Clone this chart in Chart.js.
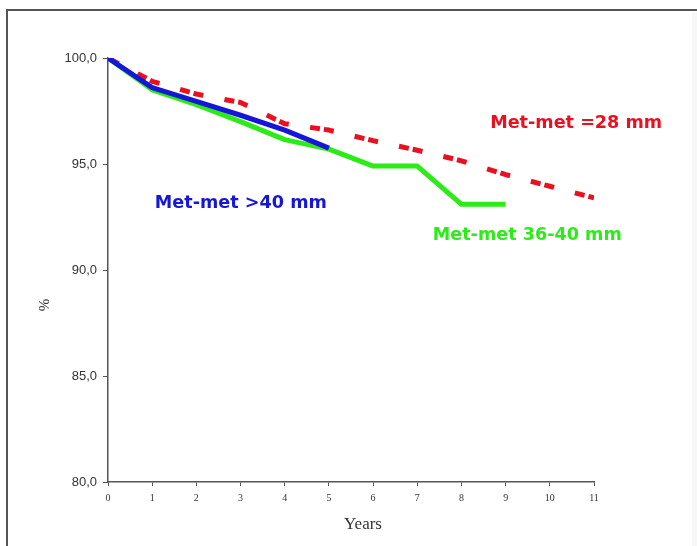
<!DOCTYPE html>
<html>
<head>
<meta charset="utf-8">
<script src="https://cdn.jsdelivr.net/npm/chart.js@4/dist/chart.umd.min.js"></script>
<style>
  html, body { margin: 0; padding: 0; background: #fff; }
  #wrap { position: relative; width: 697px; height: 546px; overflow: hidden; }
  #frame { position: absolute; left: 6px; top: 9px; right: -10px; bottom: -10px;
           border-left: 2px solid #555; border-top: 2px solid #555; }
  #edge { position: absolute; left: 692px; top: 12px; width: 5px; bottom: 0; background: #f7f7f7; }
  canvas { position: absolute; left: 0; top: 0; }
</style>
</head>
<body>
<div id="wrap">
  <div id="frame"></div>
  <div id="edge"></div>
  <canvas id="survival" width="697" height="546"></canvas>
</div>
<script>
// Survival (%) by follow-up year, per head size group
const years = [0, 1, 2, 3, 4, 5, 6, 7, 8, 9, 10, 11];
const met28 = [100, 98.9, 98.3, 97.9, 96.9, 96.6, 96.1, 95.65, 95.15, 94.5, 93.95, 93.4];
const met3640 = [100, 98.5, 97.8, 97.0, 96.15, 95.7, 94.9, 94.9, 93.1, 93.1];
const met40 = [100, 98.6, 97.95, 97.3, 96.6, 95.75];
const yTicks = [80, 85, 90, 95, 100];

// series captions, anchored in data space (left edge, vertical middle)
const captions = [
  { text: 'Met-met >40 mm', color: '#1616d8', x: 1.06, y: 93.15 },
  { text: 'Met-met =28 mm', color: '#ea1020', x: 8.65, y: 96.93 },
  { text: 'Met-met 36-40 mm', color: '#2cec18', x: 7.35, y: 91.65 }
];

const toPoints = vals => vals.map((v, i) => ({ x: years[i], y: v }));

const captionPlugin = {
  id: 'captions',
  afterDatasetsDraw(chart) {
    const { ctx, scales: { x, y }, chartArea } = chart;
    ctx.save();
    ctx.font = 'bold 17.6px "DejaVu Sans", Verdana, sans-serif';
    ctx.textAlign = 'left';
    ctx.textBaseline = 'middle';
    captions.forEach(c => {
      ctx.fillStyle = c.color;
      ctx.fillText(c.text, x.getPixelForValue(c.x), y.getPixelForValue(c.y));
    });
    // axis titles
    ctx.fillStyle = '#333';
    ctx.font = '17px "Liberation Serif", serif';
    ctx.textAlign = 'center';
    ctx.fillText('Years', chartArea.left + 255, chartArea.bottom + 43);
    ctx.font = '15px "Liberation Serif", serif';
    ctx.translate(45, chartArea.top + 247);
    ctx.rotate(-Math.PI / 2);
    ctx.fillText('%', 0, 0);
    ctx.restore();
  }
};

new Chart(document.getElementById('survival'), {
  type: 'line',
  data: {
    datasets: [
      { label: 'Met-met >40 mm', data: toPoints(met40), borderColor: '#1616d8', borderWidth: 5, order: 0 },
      { label: 'Met-met 36-40 mm', data: toPoints(met3640), borderColor: '#2cec18', borderWidth: 5, order: 1 },
      { label: 'Met-met =28 mm', data: toPoints(met28), borderColor: '#ea1020', borderWidth: 5,
        borderDash: [10, 4, 10, 21.5], borderDashOffset: 12, order: 2 }
    ]
  },
  options: {
    responsive: false,
    animation: false,
    layout: { padding: { left: 0, top: 58, right: 103, bottom: 0 } },
    elements: {
      point: { radius: 0 },
      line: { tension: 0, borderJoinStyle: 'round', borderCapStyle: 'butt', fill: false }
    },
    plugins: { legend: { display: false }, tooltip: { enabled: false } },
    scales: {
      x: {
        type: 'linear', min: 0, max: 11,
        afterFit: s => { s.height = 64; },
        border: { color: '#555', width: 1.5 },
        grid: { drawOnChartArea: false, tickLength: 4, color: '#555' },
        ticks: { stepSize: 1, padding: 6, color: '#333', font: { family: '"Liberation Serif", serif', size: 10 } }
      },
      y: {
        min: 80, max: 100,
        afterFit: s => { s.width = 108; },
        afterBuildTicks: s => { s.ticks = yTicks.map(v => ({ value: v })); },
        border: { color: '#555', width: 1.5 },
        grid: { drawOnChartArea: false, tickLength: 5, color: '#555' },
        ticks: {
          padding: 6, color: '#333',
          font: { family: '"Liberation Sans", sans-serif', size: 13 },
          callback: v => v.toFixed(1).replace('.', ',')
        }
      }
    }
  },
  plugins: [captionPlugin]
});
</script>
</body>
</html>
